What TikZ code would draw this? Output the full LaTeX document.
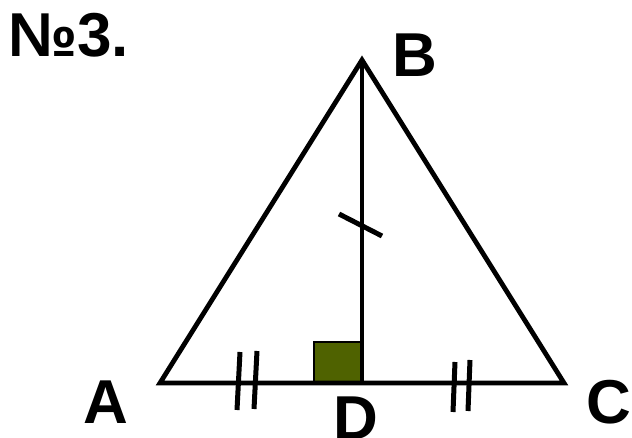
\documentclass[tikz,border=0pt]{standalone}
\usepackage{fontspec}
\setmainfont{Liberation Sans}
\definecolor{olivebox}{RGB}{79,98,0}
\begin{document}
\begin{tikzpicture}[x=1pt,y=-1pt,
  edge/.style={line width=4.8pt,line join=miter},
  tick/.style={line width=5pt},
  lbl/.style={inner sep=0pt,anchor=base west,font=\fontsize{62}{62}\selectfont\bfseries}]
\useasboundingbox (0,0) rectangle (632,438);
\coordinate (A) at (160,383);
\coordinate (B) at (362,60);
\coordinate (C) at (564,383);
\coordinate (D) at (362,383);
\filldraw[fill=olivebox,draw=black,line width=1.5pt] (314,342) rectangle (D);
\draw[edge] (A) -- (B) -- (C) -- cycle;
\draw[edge] (B) -- (D);
% ticks
\draw[tick] (339,214) -- (382,236);
\draw[tick] (240,352) -- (237,410);
\draw[tick] (257,351) -- (254,409);
\draw[tick] (455,362) -- (453,412);
\draw[tick] (470,360) -- (468,411);
% labels
\node[lbl] (n3) at (8,57) {№3.};
\node[lbl] (lB) at (392,77) {B};
\node[lbl] (lA) at (83,423) {A};
\node[lbl] (lC) at (586,423) {C};
\node[lbl] (lD) at (333,439) {D};
\end{tikzpicture}
\end{document}
